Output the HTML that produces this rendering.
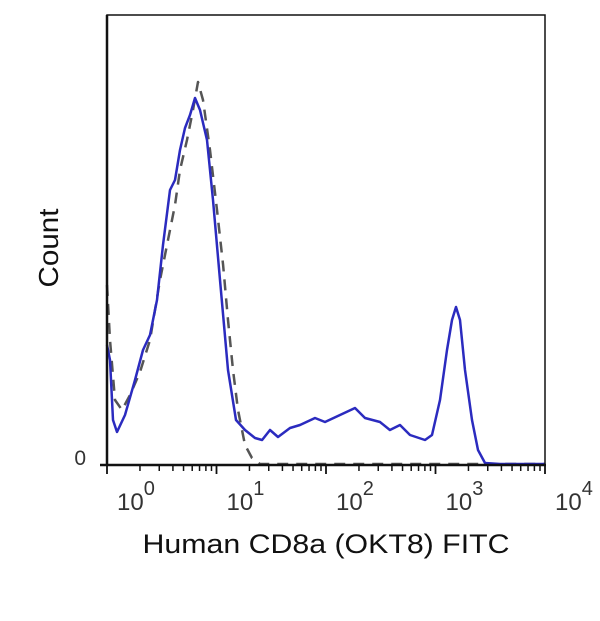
<!DOCTYPE html>
<html><head><meta charset="utf-8"><style>
body{margin:0;background:#fff;}
svg{display:block;font-family:"Liberation Sans",Arial,sans-serif;}
</style></head><body>
<svg id="chart" width="600" height="621">
<rect x="0" y="0" width="600" height="621" fill="#fff"/>
<g id="ticks"></g>
<g id="series"></g>
<rect x="107" y="15" width="438" height="450" fill="none" stroke="#111" stroke-width="1.5"/>
<line x1="107" y1="15" x2="107" y2="466" stroke="#111" stroke-width="2.5"/>
<line x1="100" y1="465" x2="546" y2="465" stroke="#111" stroke-width="2.5"/>
<text x="86" y="465" font-size="21" text-anchor="end" fill="#333">0</text>
<text transform="translate(58,248) rotate(-90)" font-size="28" text-anchor="middle" textLength="79" lengthAdjust="spacingAndGlyphs" fill="#111">Count</text>
<text x="326" y="553" font-size="27" text-anchor="middle" textLength="367" lengthAdjust="spacingAndGlyphs" fill="#111">Human CD8a (OKT8) FITC</text>
</svg>
<script>
const decades=[0,1,2,3,4];
const tickLabels=["10","10","10","10","10"];
const tickExps=["0","1","2","3","4"];
const blueX=[0,.027,.055,.091,.164,.256,.329,.393,.457,.511,.575,.621,.667,.712,.758,.804,.849,.913,.968,1.032,1.105,1.178,1.260,1.352,1.416,1.489,1.562,1.671,1.763,1.900,1.991,2.128,2.265,2.356,2.493,2.584,2.676,2.767,2.904,2.968,3.041,3.105,3.151,3.187,3.224,3.269,3.333,3.388,3.452,3.589,4];
const blueY=[30,26.25,11.25,8.25,12.5,21.25,28.75,32.5,41.25,55,68.75,71.25,78.75,84.25,87.5,91.75,88.75,81.25,66.25,46.25,23.75,11.25,8.75,6.75,6.25,8.75,7,9.25,10,11.75,10.75,12.5,14.25,11.75,10.75,8.75,10,7.5,6.25,7.5,16.25,28.75,36.25,39.5,36.25,23.75,11.25,3.75,.5,.25,.25];
const dashX=[0,.027,.073,.137,.210,.301,.393,.484,.557,.621,.667,.731,.785,.831,.877,.941,1.005,1.060,1.105,1.151,1.196,1.260,1.324,1.397,4];
const dashY=[45,31.25,16.25,13.75,17.5,23.25,31.25,46.25,56.25,65,73.75,81.25,88.75,95.75,91.25,78.75,63.75,50,36.25,23.75,13.75,5,1.75,.25,.25];
const NS="http://www.w3.org/2000/svg";
function xs(v){return 107+v*109.5;}
function ys(c){return 465-c*4;}
const tg=document.getElementById('ticks');
decades.forEach((d,i)=>{
  const l=document.createElementNS(NS,'line');
  l.setAttribute('x1',xs(d));l.setAttribute('x2',xs(d));l.setAttribute('y1',465);l.setAttribute('y2',474);
  l.setAttribute('stroke','#111');l.setAttribute('stroke-width','1.8');
  
  
  tg.appendChild(l);
  if(d<4){for(let m=2;m<=9;m++){
    const x=xs(d+Math.log10(m));
    const t=document.createElementNS(NS,'line');
    t.setAttribute('x1',x);t.setAttribute('x2',x);t.setAttribute('y1',465);t.setAttribute('y2',471);
    t.setAttribute('stroke','#111');t.setAttribute('stroke-width','1.5');
    
    
    tg.appendChild(t);}}
  const tx=document.createElementNS(NS,'text');
  tx.setAttribute('x',xs(d)+10);tx.setAttribute('y',510);tx.setAttribute('font-size','24');tx.setAttribute('fill','#333');
  
  
  tx.textContent=tickLabels[i];
  const sp=document.createElementNS(NS,'tspan');
  sp.setAttribute('dy','-15');sp.setAttribute('font-size','20');sp.textContent=tickExps[i];
  tx.appendChild(sp);
  tg.appendChild(tx);
});
const sg=document.getElementById('series');
function path(X,Y,stroke,dash,name){
  const p=document.createElementNS(NS,'path');
  p.setAttribute('d',X.map((v,i)=>(i?'L':'M')+xs(v).toFixed(1)+','+ys(Y[i]).toFixed(1)).join(''));
  p.setAttribute('fill','none');p.setAttribute('stroke',stroke);p.setAttribute('stroke-width','2.5');
  p.setAttribute('stroke-linejoin','round');
  if(dash)p.setAttribute('stroke-dasharray',dash);
  
  
  sg.appendChild(p);
}
path(dashX,dashY,'#555','11,8','isotype-control-dashed-line');
path(blueX,blueY,'#2b2bbf',null,'cd8a-stained-line');
</script>
</body></html>
